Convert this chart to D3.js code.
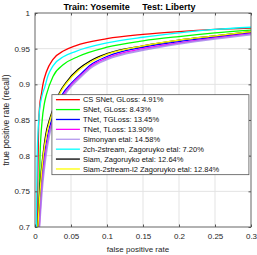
<!DOCTYPE html>
<html>
<head>
<meta charset="utf-8">
<script src="https://cdn.jsdelivr.net/npm/d3@7"></script>
<style>
    body { margin: 0; background: #fff; }
    svg { display: block; font-family: 'Liberation Sans', Arial, sans-serif; }
    .grid line { stroke: #e3e3e3; stroke-width: 1; }
    .axis path { display: none; }
    .axis line { stroke: #555; }
    .axis text { fill: #262626; font-size: 8px; }
    .roc-line { fill: none; stroke-width: 1.3; }
</style>
</head>
<body>
<svg id="chart"></svg>
<script>
// tick labels
const xTicks = [0, 0.05, 0.1, 0.15, 0.2, 0.25, 0.3]
const xTickLabels = ['0', '0.05', '0.1', '0.15', '0.2', '0.25', '0.3']
const yTicks = [0.7, 0.75, 0.8, 0.85, 0.9, 0.95, 1]
const yTickLabels = ['0.7', '0.75', '0.8', '0.85', '0.9', '0.95', '1']

// legend names, in legend order
const seriesNames = [
    'CS SNet, GLoss: 4.91%',
    'SNet, GLoss: 8.43%',
    'TNet, TGLoss: 13.45%',
    'TNet, TLoss: 13.90%',
    'Simonyan etal: 14.58%',
    '2ch-2stream, Zagoruyko etal: 7.20%',
    'Siam, Zagoruyko etal: 12.64%',
    'Siam-2stream-l2 Zagoruyko etal: 12.84%'
]

// ROC points (false positive rate, true positive rate)
const csSnetFpr = [0.003, 0.004, 0.005, 0.0065, 0.009, 0.011, 0.016, 0.025, 0.04, 0.056, 0.1, 0.15, 0.2, 0.25, 0.3]
const csSnetTpr = [0.70, 0.78, 0.84, 0.87, 0.887, 0.90, 0.918, 0.935, 0.947, 0.954, 0.964, 0.970, 0.974, 0.977, 0.979]

const snetFpr = [0.005, 0.007, 0.01, 0.013, 0.016, 0.025, 0.04, 0.06, 0.1, 0.15, 0.2, 0.25, 0.3]
const snetTpr = [0.70, 0.80, 0.85, 0.873, 0.886, 0.911, 0.928, 0.939, 0.952, 0.961, 0.967, 0.972, 0.976]

const tnetTglFpr = [0.005, 0.008, 0.013, 0.018, 0.023, 0.032, 0.038, 0.05, 0.065, 0.077, 0.1, 0.15, 0.2, 0.25, 0.3]
const tnetTglTpr = [0.70, 0.75, 0.80, 0.83, 0.85, 0.875, 0.886, 0.901, 0.916, 0.927, 0.939, 0.952, 0.960, 0.966, 0.972]

const tnetTlFpr = [0.006, 0.009, 0.014, 0.019, 0.025, 0.034, 0.04, 0.05, 0.065, 0.077, 0.1, 0.15, 0.2, 0.25, 0.3]
const tnetTlTpr = [0.70, 0.75, 0.80, 0.83, 0.85, 0.875, 0.886, 0.899, 0.914, 0.925, 0.937, 0.950, 0.958, 0.965, 0.971]

const simonyanFpr = [0.006, 0.0095, 0.015, 0.02, 0.026, 0.035, 0.041, 0.05, 0.065, 0.077, 0.1, 0.15, 0.2, 0.25, 0.3]
const simonyanTpr = [0.70, 0.75, 0.80, 0.83, 0.85, 0.874, 0.885, 0.897, 0.912, 0.923, 0.935, 0.948, 0.957, 0.964, 0.970]

const twoChFpr = [0.002, 0.003, 0.006, 0.01, 0.0135, 0.018, 0.025, 0.04, 0.056, 0.1, 0.15, 0.2, 0.25, 0.3]
const twoChTpr = [0.70, 0.80, 0.86, 0.885, 0.896, 0.912, 0.926, 0.939, 0.946, 0.958, 0.966, 0.972, 0.977, 0.980]

const siamFpr = [0.004, 0.0065, 0.011, 0.015, 0.02, 0.029, 0.034, 0.045, 0.06, 0.077, 0.1, 0.15, 0.2, 0.25, 0.3]
const siamTpr = [0.70, 0.75, 0.80, 0.83, 0.85, 0.876, 0.888, 0.905, 0.921, 0.933, 0.943, 0.954, 0.962, 0.968, 0.974]

const siamL2Fpr = [0.004, 0.007, 0.0115, 0.016, 0.021, 0.03, 0.035, 0.045, 0.06, 0.077, 0.1, 0.15, 0.2, 0.25, 0.3]
const siamL2Tpr = [0.70, 0.75, 0.80, 0.83, 0.85, 0.876, 0.888, 0.903, 0.919, 0.931, 0.942, 0.954, 0.962, 0.968, 0.974]

const seriesColors = ['#ff0000', '#00ff00', '#0000ff', '#ff00ff', '#a07ce8', '#00ffff', '#000000', '#ffff00']

class RocChart {
    constructor(_config) {
        this.config = {
            parentElement: _config.parentElement,
            containerWidth: 257,
            containerHeight: 255,
            margin: { top: 13, right: 6, bottom: 28, left: 35 }
        }
        this.initVis()
    }

    initVis() {
        let vis = this
        let m = vis.config.margin

        vis.width = vis.config.containerWidth - m.left - m.right
        vis.height = vis.config.containerHeight - m.top - m.bottom

        vis.svg = d3.select(vis.config.parentElement)
            .attr('width', vis.config.containerWidth)
            .attr('height', vis.config.containerHeight)

        vis.chart = vis.svg.append('g')
            .attr('transform', `translate(${m.left},${m.top})`)

        vis.xScale = d3.scaleLinear().domain([0, 0.3]).range([0, vis.width])
        vis.yScale = d3.scaleLinear().domain([0.7, 1]).range([vis.height, 0])

        vis.updateVis()
    }

    updateVis() {
        let vis = this

        vis.series = [
            [csSnetFpr, csSnetTpr],
            [snetFpr, snetTpr],
            [tnetTglFpr, tnetTglTpr],
            [tnetTlFpr, tnetTlTpr],
            [simonyanFpr, simonyanTpr],
            [twoChFpr, twoChTpr],
            [siamFpr, siamTpr],
            [siamL2Fpr, siamL2Tpr]
        ].map(([fpr, tpr], i) => ({
            name: seriesNames[i],
            color: seriesColors[i],
            values: fpr.map((f, j) => ({ x: f, y: tpr[j] }))
        }))

        vis.line = d3.line()
            .x(d => vis.xScale(d.x))
            .y(d => vis.yScale(d.y))
            .curve(d3.curveMonotoneX)

        vis.renderVis()
    }

    renderVis() {
        let vis = this

        // grid
        vis.chart.append('g').attr('class', 'grid')
            .selectAll('line.gx').data(xTicks).join('line')
            .attr('x1', d => vis.xScale(d)).attr('x2', d => vis.xScale(d))
            .attr('y1', 0).attr('y2', vis.height)
        vis.chart.append('g').attr('class', 'grid')
            .selectAll('line.gy').data(yTicks).join('line')
            .attr('y1', d => vis.yScale(d)).attr('y2', d => vis.yScale(d))
            .attr('x1', 0).attr('x2', vis.width)

        vis.chart.append('defs').append('clipPath').attr('id', 'plot-clip')
            .append('rect').attr('width', vis.width).attr('height', vis.height)

        vis.chart.append('g')
            .attr('clip-path', 'url(#plot-clip)')
            .selectAll('.roc-line')
            .data(vis.series)
            .join('path')
            .attr('class', 'roc-line')
            .attr('d', d => vis.line(d.values))
            .style('stroke', d => d.color)
            .style('stroke-width', (d, i) => i == 4 ? 2 : 1.3)
            .style('stroke-opacity', (d, i) => i == 4 ? 0.8 : 1)

        // axes, ticks inward like matlab
        const xFmt = (d, i) => xTickLabels[i]
        const yFmt = (d, i) => yTickLabels[i]

        vis.chart.append('g').attr('class', 'axis')
            .attr('transform', `translate(0,${vis.height})`)
            .call(d3.axisBottom(vis.xScale).tickValues(xTicks).tickFormat(xFmt).tickSize(-2.5).tickPadding(6))
        vis.chart.append('g').attr('class', 'axis')
            .call(d3.axisTop(vis.xScale).tickValues(xTicks).tickFormat('').tickSize(-2.5))
        vis.chart.append('g').attr('class', 'axis')
            .call(d3.axisLeft(vis.yScale).tickValues(yTicks).tickFormat(yFmt).tickSize(-2.5).tickPadding(5))
        vis.chart.append('g').attr('class', 'axis')
            .attr('transform', `translate(${vis.width},0)`)
            .call(d3.axisRight(vis.yScale).tickValues(yTicks).tickFormat('').tickSize(-2.5))

        vis.chart.append('rect')
            .attr('width', vis.width)
            .attr('height', vis.height)
            .attr('fill', 'none')
            .attr('stroke', '#555')
            .attr('stroke-width', 0.8)

        // legend
        let legend = vis.chart.append('g')
            .attr('transform', `translate(${vis.xScale(0.0235)},${vis.yScale(0.8855)})`)

        legend.append('rect')
            .attr('width', 197)
            .attr('height', 80)
            .attr('fill', '#fff')
            .attr('stroke', '#555')
            .attr('stroke-width', 0.8)

        let rows = legend.selectAll('.legend-row')
            .data(vis.series)
            .join('g')
            .attr('class', 'legend-row')
            .attr('transform', (d, i) => `translate(0,${5 + i * 9.9})`)

        rows.append('line')
            .attr('x1', 4).attr('x2', 28)
            .attr('stroke', d => d.color)
            .attr('stroke-width', 1.3)
            .attr('stroke-opacity', (d, i) => i == 4 ? 0.8 : 1)

        rows.append('text')
            .attr('x', 31)
            .attr('dy', '0.35em')
            .style('font-size', '7.5px')
            .style('fill', '#111')
            .text(d => d.name)

        // titles
        vis.svg.append('text')
            .attr('x', 129.5)
            .attr('y', 9.5)
            .attr('text-anchor', 'middle')
            .style('font-size', '9px')
            .style('font-weight', 'bold')
            .style('white-space', 'pre')
            .text('Train: Yosemite     Test: Liberty')

        vis.svg.append('text')
            .attr('x', 138)
            .attr('y', 252)
            .attr('text-anchor', 'middle')
            .style('font-size', '8px')
            .style('fill', '#262626')
            .text('false positive rate')

        vis.svg.append('text')
            .attr('transform', `translate(9,${vis.config.margin.top + vis.height / 2}) rotate(-90)`)
            .attr('text-anchor', 'middle')
            .style('font-size', '8.5px')
            .style('fill', '#262626')
            .text('true positive rate (recall)')
    }
}

new RocChart({ parentElement: '#chart' })
</script>
</body>
</html>
